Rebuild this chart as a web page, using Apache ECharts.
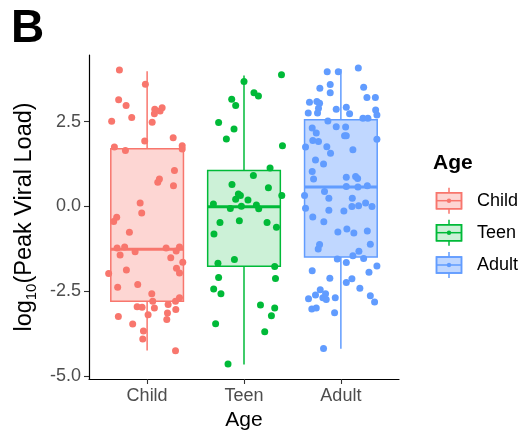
<!DOCTYPE html>
<html>
<head>
<meta charset="utf-8">
<script src="https://cdn.jsdelivr.net/npm/echarts@6/dist/echarts.min.js"></script>
<style>
  html, body { margin: 0; padding: 0; background: #fff; }
  #chart { width: 525px; height: 440px; }
</style>
</head>
<body>
<div id="chart"></div>
<script>
// categories + axis ticks
var categories = ['Child', 'Teen', 'Adult'];
var yTicks = [-5, -2.5, 0, 2.5];

// box stats (whisker low, Q1, median, Q3, whisker high)
var boxLow = [-4.24, -4.65, -4.19];
var boxQ1 = [-2.79, -1.76, -1.49];
var boxMedian = [-1.26, -0.01, 0.57];
var boxQ3 = [1.70, 1.06, 2.55];
var boxHigh = [3.98, 3.86, 4.05];

// jittered points: y value + horizontal jitter (in category units)
var childY = [4.02, 3.60, 3.14, 2.97, 2.51, 2.62, 2.86, 2.73, 2.81, 2.91, 2.48, 1.93, 2.02, 1.75, 1.65, 1.79, 1.69, 1.06, 0.81, 0.71,
  0.61, 0.10, -0.19, -0.32, -0.44, -0.76, -1.22, -1.19, -1.43, -1.33, -1.22, -1.19, -1.31, -1.51, -1.64, -1.97, -1.87, -1.82, -1.96, -2.38,
  -2.30, -2.57, -2.79, -2.95, -2.97, -2.99, -2.89, -2.79, -2.69, -3.03, -3.19, -3.24, -3.14, -3.33, -3.46, -3.67, -3.90, -4.25];
var childJitter = [-0.286, -0.018, -0.294, -0.217, -0.366, -0.159, 0.079, 0.075, 0.134, 0.155, 0.052, -0.025, 0.269, -0.338, -0.224, 0.362, 0.362, 0.282, 0.127, 0.110,
  0.272, -0.072, -0.056, -0.314, -0.345, -0.183, -0.310, -0.232, -0.279, -0.124, 0.196, 0.334, 0.300, 0.244, 0.368, -0.397, -0.214, 0.303, 0.334, -0.304,
  -0.097, 0.048, 0.058, -0.103, -0.052, 0.075, 0.217, 0.293, 0.334, 0.296, 0.010, -0.297, 0.210, 0.203, -0.149, -0.038, -0.045, 0.293];

var teenY = [3.88, 3.68, 3.35, 3.25, 3.16, 2.97, 2.47, 2.28, 1.99, 1.79, 1.13, 0.91, 0.65, 0.55, 0.37, 0.32, 0.21, 0.19, 0.32, 0.07,
  0.04, -0.06, 0.01, -0.07, -0.47, -0.42, -0.47, -0.61, -0.81, -1.67, -1.56, -1.77, -2.09, -2.12, -2.43, -2.57, -2.90, -2.99, -3.22, -3.45,
  -3.69, -4.64];
var teenJitter = [0.387, 0.0, 0.103, 0.149, -0.127, -0.086, -0.262, -0.103, -0.182, 0.397, 0.269, 0.097, -0.124, 0.252, -0.058, -0.037, -0.086, 0.041, 0.390, -0.316,
  0.128, -0.141, -0.027, 0.152, -0.248, -0.048, 0.238, 0.335, -0.310, -0.269, -0.099, 0.317, -0.262, 0.325, -0.313, -0.238, 0.170, 0.317, 0.283, -0.293,
  0.214, -0.165];

var adultY = [4.08, 3.97, 3.97, 3.48, 3.59, 3.35, 3.51, 3.21, 3.21, 3.07, 3.09, 3.04, 2.89, 2.75, 2.75, 2.86, 2.92, 2.73, 2.84, 2.69,
  2.60, 2.60, 2.52, 2.35, 2.34, 2.31, 2.16, 2.08, 2.08, 1.94, 1.91, 1.98, 1.75, 1.76, 1.67, 1.57, 1.37, 1.25, 1.03, 0.81,
  0.86, 0.88, 0.82, 0.59, 0.57, 0.61, 0.32, 0.44, 0.24, 0.24, -0.05, -0.11, -0.13, 0.00, 0.02, 0.10, 0.00, -0.31, -0.45, -0.75,
  -0.66, -0.78, -0.72, -1.11, -1.12, -1.25, -1.55, -1.65, -1.45, -1.32, -1.53, -1.89, -1.94, -1.75, -2.11, -2.24, -2.13, -2.41, -2.45, -2.61,
  -2.72, -2.57, -2.69, -2.74, -2.69, -2.63, -2.81, -3.02, -2.99, -3.13, -4.18];
var adultJitter = [0.180, -0.141, -0.027, -0.217, -0.110, -0.110, 0.235, 0.269, 0.356, -0.324, -0.248, -0.220, -0.231, -0.337, -0.241, -0.048, 0.056, 0.090, 0.359, 0.372,
  0.228, 0.279, -0.134, -0.048, 0.049, -0.296, -0.254, 0.038, 0.056, -0.290, -0.231, 0.372, -0.365, -0.145, 0.124, -0.107, -0.262, -0.179, -0.296, -0.282,
  0.056, 0.152, 0.173, 0.056, 0.176, 0.273, -0.375, -0.169, -0.124, 0.118, -0.365, -0.124, 0.031, 0.114, 0.183, 0.255, 0.321, -0.290, -0.176, -0.031,
  0.062, 0.134, 0.273, 0.304, -0.220, -0.234, -0.037, 0.056, 0.124, 0.186, 0.235, -0.296, 0.290, 0.372, -0.114, 0.056, 0.114, 0.196, -0.213, -0.262,
  -0.334, -0.158, -0.186, -0.151, -0.058, 0.304, 0.348, -0.300, -0.254, -0.065, -0.179];

var colors = ['#F8766D', '#00BA38', '#619CFF'];
var fills = ['rgba(248,118,109,0.3)', 'rgba(0,186,56,0.2)', 'rgba(97,156,255,0.4)'];
var boxWidth = 0.75;
var font = "'Liberation Sans', Arial, Helvetica, sans-serif";

var chart = echarts.init(document.getElementById('chart'), null, { renderer: 'canvas' });

var boxData = [];
for (var i = 0; i < categories.length; i++) {
  boxData.push([i + 1, boxLow[i], boxQ1[i], boxMedian[i], boxQ3[i], boxHigh[i]]);
}

function toPoints(ys, jit, idx) {
  var out = [];
  ys.forEach(function (y, k) { out.push([idx + 1 + jit[k], y]); });
  return out;
}

function renderBox(params, api) {
  var i = params.dataIndex;
  var x = api.value(0);
  var hw = boxWidth / 2;
  var tl = api.coord([x - hw, api.value(4)]);
  var br = api.coord([x + hw, api.value(2)]);
  var hi = api.coord([x, api.value(5)]);
  var lo = api.coord([x, api.value(1)]);
  var q3 = api.coord([x, api.value(4)]);
  var q1 = api.coord([x, api.value(2)]);
  var mL = api.coord([x - hw, api.value(3)]);
  var mR = api.coord([x + hw, api.value(3)]);
  var c = colors[i];
  return {
    type: 'group',
    children: [
      { type: 'line', shape: { x1: hi[0], y1: hi[1], x2: q3[0], y2: q3[1] }, style: { stroke: c, lineWidth: 1.5 } },
      { type: 'line', shape: { x1: q1[0], y1: q1[1], x2: lo[0], y2: lo[1] }, style: { stroke: c, lineWidth: 1.5 } },
      { type: 'rect', shape: { x: tl[0], y: tl[1], width: br[0] - tl[0], height: br[1] - tl[1] }, style: { fill: fills[i], stroke: c, lineWidth: 1.5 } },
      { type: 'line', shape: { x1: mL[0], y1: mL[1], x2: mR[0], y2: mR[1] }, style: { stroke: c, lineWidth: 3 } }
    ]
  };
}

// legend drawn by hand (ggplot style boxplot keys)
var legendEls = [
  { type: 'text', left: 433, top: 153, style: { text: 'Age', font: 'bold 21px ' + font, fill: '#000' } }
];
var keyY = [200.7, 232.7, 265];
categories.forEach(function (name, i) {
  var cy = keyY[i];
  legendEls.push({
    type: 'group',
    children: [
      { type: 'line', shape: { x1: 449, y1: cy - 13, x2: 449, y2: cy + 13 }, style: { stroke: colors[i], lineWidth: 1.5 } },
      { type: 'rect', shape: { x: 436.5, y: cy - 8, width: 25, height: 16 }, style: { fill: '#fff', stroke: colors[i], lineWidth: 1.5 } },
      { type: 'rect', shape: { x: 436.5, y: cy - 8, width: 25, height: 16 }, style: { fill: fills[i], stroke: colors[i], lineWidth: 1.5 } },
      { type: 'line', shape: { x1: 436.5, y1: cy, x2: 461.5, y2: cy }, style: { stroke: colors[i], lineWidth: 1.5 } },
      { type: 'circle', shape: { cx: 449, cy: cy, r: 2.2 }, style: { fill: colors[i] } },
      { type: 'text', x: 477, y: cy, style: { text: name, font: '18px ' + font, fill: '#000', textVerticalAlign: 'middle' } }
    ]
  });
});

var option = {
  animation: false,
  title: {
    text: 'B',
    left: 6,
    top: 1,
    textStyle: { fontSize: 46, fontWeight: 'bold', color: '#000', fontFamily: font }
  },
  grid: { left: 89, right: 126, top: 55, bottom: 61 },
  xAxis: {
    type: 'value',
    min: 0.4,
    max: 3.6,
    name: 'Age',
    nameLocation: 'middle',
    nameGap: 31,
    nameTextStyle: { fontSize: 21, color: '#000', fontFamily: font },
    axisLine: { onZero: false, lineStyle: { color: '#000', width: 1.2 } },
    axisTick: { customValues: [1, 2, 3], length: 5, lineStyle: { color: '#333', width: 1.1 } },
    axisLabel: {
      customValues: [1, 2, 3],
      margin: 8,
      fontSize: 18,
      color: '#4D4D4D',
      fontFamily: font,
      formatter: function (v) { return categories[Math.round(v) - 1]; }
    },
    splitLine: { show: false }
  },
  yAxis: {
    type: 'value',
    min: -5.08,
    max: 4.46,
    name: '{a|log}{s|10}{a|(Peak Viral Load)}',
    nameLocation: 'middle',
    nameGap: 50,
    nameTextStyle: {
      color: '#000',
      fontFamily: font,
      rich: {
        a: { fontSize: 23.5, color: '#000', fontFamily: font },
        s: { fontSize: 15, color: '#000', fontFamily: font, padding: [13, 0, 0, 0] }
      }
    },
    axisLine: { show: true, onZero: false, lineStyle: { color: '#000', width: 1.2 } },
    axisTick: { show: true, customValues: yTicks, length: 5, lineStyle: { color: '#333', width: 1.1 } },
    axisLabel: {
      customValues: yTicks,
      margin: 8,
      fontSize: 18,
      color: '#4D4D4D',
      fontFamily: font,
      formatter: function (v) { return v.toFixed(1); }
    },
    splitLine: { show: false }
  },
  graphic: legendEls,
  series: [
    {
      type: 'custom',
      renderItem: renderBox,
      data: boxData,
      encode: { x: 0, y: [1, 2, 3, 4, 5] },
      z: 1
    },
    {
      name: 'Child', type: 'scatter', symbolSize: 7, z: 3,
      itemStyle: { color: colors[0], opacity: 1 },
      data: toPoints(childY, childJitter, 0)
    },
    {
      name: 'Teen', type: 'scatter', symbolSize: 7, z: 3,
      itemStyle: { color: colors[1], opacity: 1 },
      data: toPoints(teenY, teenJitter, 1)
    },
    {
      name: 'Adult', type: 'scatter', symbolSize: 7, z: 3,
      itemStyle: { color: colors[2], opacity: 1 },
      data: toPoints(adultY, adultJitter, 2)
    }
  ]
};

chart.setOption(option);

window.addEventListener('resize', function () {
  chart.resize();
});
</script>
</body>
</html>
